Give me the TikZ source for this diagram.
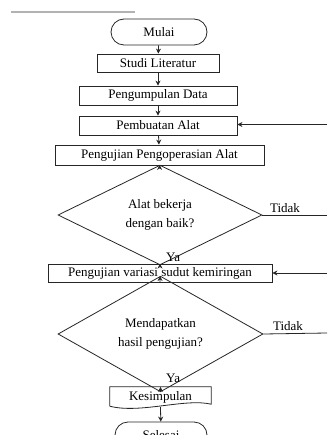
\documentclass[tikz,border=0pt]{standalone}
\usepackage{fontspec}
\setmainfont{Liberation Serif}
\usetikzlibrary{shapes.geometric,arrows.meta}
\begin{document}
\begin{tikzpicture}[x=1pt,y=-1pt,
  every node/.style={font=\fontsize{13}{19}\selectfont, text=black, inner sep=0pt},
  box/.style={draw=black!85, line width=0.8pt, rectangle, minimum height=19pt},
  term/.style={draw=black!85, line width=0.8pt, rectangle, rounded corners=13pt, minimum height=26pt},
  dec/.style={draw=black!85, line width=0.8pt, diamond, align=center},
  flow/.style={draw=black!85, line width=0.8pt, -{Stealth[length=5pt,width=5pt]}},
  plain/.style={draw=black!85, line width=0.8pt},
  lbl/.style={font=\fontsize{13}{15}\selectfont}
]
\useasboundingbox (0,0) rectangle (327,435);
\clip (0,0) rectangle (327,435);
\fill[white] (0,0) rectangle (327,435);
% top rule
\coordinate (r1) at (11,12);
\coordinate (r2) at (135,12);
\draw[black!30, line width=1.2pt] (r1) -- (r2);

\node[term, minimum width=96pt] (mulai) at (159,32) {Mulai};
\node[box, minimum width=122pt, minimum height=18pt] (studi) at (158,63) {Studi Literatur};
\node[box, minimum width=158pt] (data) at (158,95.5) {Pengumpulan Data};
\node[box, minimum width=158pt] (buat) at (158,125.5) {Pembuatan Alat};
\node[box, minimum width=209pt, minimum height=20pt] (uji) at (159.5,155) {Pengujian Pengoperasian Alat};
\node[dec, minimum width=204pt, minimum height=75pt] (d1) at (160,215) {Alat bekerja\\dengan baik?};
\node[box, minimum width=224pt, minimum height=18pt] (var) at (160,273) {Pengujian variasi sudut kemiringan};
\node[dec, minimum width=205pt, minimum height=78pt] (d2) at (160.5,334) {Mendapatkan\\hasil pengujian?};
\node[rectangle, minimum width=101pt, minimum height=20pt] (kes) at (160.5,397) {Kesimpulan};
\draw[plain] (kes.south east) ++(0,-3) coordinate (kse)
  (kes.south west) ++(0,-1) coordinate (ksw)
  (ksw) -- (kes.north west) -- (kes.north east) -- (kse)
  .. controls (185,398) and (140,414) .. (ksw);
\node[term, minimum width=92pt] (selesai) at (161,435) {Selesai};

% labels
\node[lbl, anchor=west] (ya1) at (166,257.5) {Ya};
\node[lbl, anchor=west] (ya2) at (166,378.5) {Ya};
\node[lbl] (t1) at (285,208.5) {Tidak};
\node[lbl] (t2) at (288,326.5) {Tidak};

% right-side free ends
\coordinate (e1) at (327,124.5);
\coordinate (e2) at (327,215);
\coordinate (e3) at (327,273);
\coordinate (e4) at (327,333);
\coordinate (ks) at (160.5,407);

\draw[flow] (mulai) -- (studi);
\draw[flow] (studi) -- (data);
\draw[flow] (data) -- (buat);
\draw[flow] (buat) -- (uji);
\draw[flow] (uji) -- (d1);
\draw[flow] (d1) -- (var);
\draw[flow] (var) -- (d2);
\draw[flow] (d2) -- (kes.north);
\draw[flow] (ks) -- (selesai);

\draw[plain] (d1.east) -- (e2);
\draw[plain] (d2.east) -- (e4);
\draw[flow] (e1) -- (buat.east |- e1);
\draw[flow] (e3) -- (var.east);
\end{tikzpicture}
\end{document}
